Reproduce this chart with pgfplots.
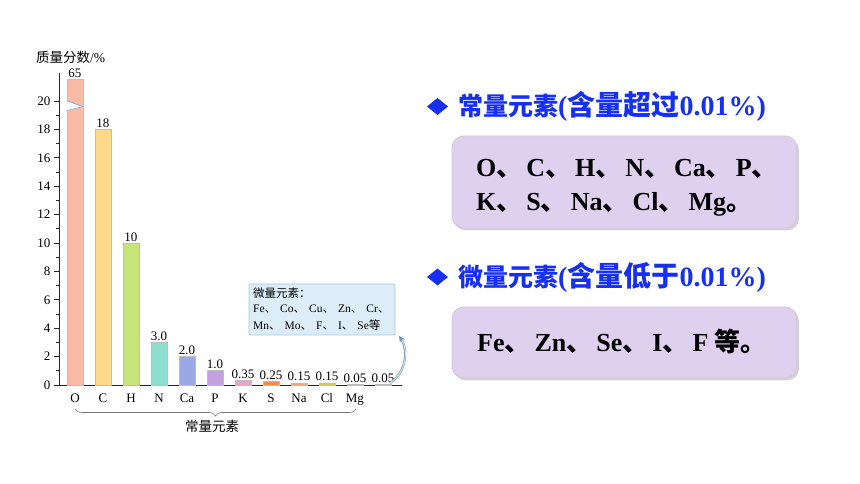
\documentclass[border=0pt]{standalone}
\usepackage{pgfplots}
\pgfplotsset{compat=1.18}
\usetikzlibrary{decorations.pathreplacing,arrows.meta,shadows}
\usepackage{fontspec}
\setmainfont{Liberation Serif}
\newfontfamily\cjk{Noto Sans CJK SC}
\newcommand\zh[1]{{\cjk #1}}
\newcommand\dun[1]{\makebox[#1][l]{\cjk 、}}
\definecolor{cO}{HTML}{F9BBA6}
\definecolor{cC}{HTML}{FDD98A}
\definecolor{cH}{HTML}{C5E47A}
\definecolor{cN}{HTML}{8EDFD0}
\definecolor{cCa}{HTML}{9AA9E6}
\definecolor{cP}{HTML}{C3A1E0}
\definecolor{cK}{HTML}{EFA0CD}
\definecolor{cS}{HTML}{EE8A4E}
\definecolor{cNa}{HTML}{F2A67A}
\definecolor{cCl}{HTML}{D2CC5E}
\definecolor{cMg}{HTML}{5C9BD0}
\definecolor{barline}{HTML}{BDBDBD}
\definecolor{annfill}{HTML}{DDEDF7}
\definecolor{annline}{HTML}{A8C8DE}
\definecolor{arrowc}{HTML}{8DBADA}
\definecolor{headblue}{HTML}{1530F0}
\definecolor{boxfill}{HTML}{DFD0EF}
\definecolor{boxline}{HTML}{CFC3DF}
\definecolor{breakc}{HTML}{8FA8C8}
\begin{document}
\begin{tikzpicture}[x=1pt,y=1pt]
\path[use as bounding box] (0,0) rectangle (860,484);
\begin{axis}[at={(59pt,99pt)}, anchor=south west, scale only axis,
  width=343pt, height=312.4pt,
  xmin=-0.571, xmax=11.68, ymin=0, ymax=22,
  axis x line*=bottom, axis y line*=left,
  axis line style={black!85, line width=0.9pt},
  ytick={0,2,...,20}, minor y tick num=1,
  xtick={0,...,10}, xticklabels={O,C,H,N,Ca,P,K,S,Na,Cl,Mg},
  x tick style={draw=none},
  y tick style={black!85, line width=0.8pt},
  tick align=outside, major tick length=5pt, minor tick length=3pt,
  ybar, bar width=16pt, bar shift=0pt,
  nodes near coords, point meta=explicit symbolic,
  every node near coord/.append style={font=\fontsize{13}{13}\selectfont, inner sep=1.5pt, black},
  tick label style={font=\fontsize{13}{13}\selectfont, black},
  /pgf/number format/assume math mode=true,
  clip=false,
  mybar/.style={fill=#1, draw=barline, line width=0.6pt, bar shift=0pt},
]
\addplot[mybar=cO] coordinates {(0,21.5) [65]};
\addplot[mybar=cC] coordinates {(1,18) [18]};
\addplot[mybar=cH] coordinates {(2,10) [10]};
\addplot[mybar=cN] coordinates {(3,3.0) [3.0]};
\addplot[mybar=cCa] coordinates {(4,2.0) [2.0]};
\addplot[mybar=cP] coordinates {(5,1.0) [1.0]};
\addplot[mybar=cK] coordinates {(6,0.35) [0.35]};
\addplot[mybar=cS] coordinates {(7,0.25) [0.25]};
\addplot[mybar=cNa] coordinates {(8,0.15) [0.15]};
\addplot[mybar=cCl] coordinates {(9,0.15) [0.15]};
\addplot[mybar=cMg] coordinates {(10,0.05) [0.05]};
\addplot[mybar=cMg] coordinates {(11,0.05) [0.05]};
\fill[white] (axis cs:-0.32,20.02) -- (axis cs:0.32,19.58) -- (axis cs:-0.32,19.33) -- cycle;
\draw[breakc, line width=0.7pt] (axis cs:-0.29,20.02) -- (axis cs:0.29,19.6);
\draw[breakc, line width=0.7pt] (axis cs:-0.29,19.33) -- (axis cs:0.29,19.6);
\end{axis}
% y label
\node[font=\fontsize{13.5}{14}\selectfont, anchor=west, inner sep=0] at (36,427) {\zh{质量分数}/\%};
% brace
\draw[decorate, decoration={brace, amplitude=7pt}, black!55, line width=0.6pt] (356,75) -- (75,75);
\node[font=\cjk\fontsize{13.5}{14}\selectfont, inner sep=0] at (212,58) {常量元素};
% annotation box
\draw[fill=annfill, draw=annline, line width=0.7pt, rounded corners=2pt] (249,149) rectangle (395,200);
\node[anchor=west, inner sep=0, font=\fontsize{11.5}{12}\selectfont] at (253,191) {\zh{微量元素：}};
\node[anchor=west, inner sep=0, font=\fontsize{11.5}{12}\selectfont] at (253,175) {Fe\dun{1.35em}Co\dun{1.35em}Cu\dun{1.35em}Zn\dun{1.35em}Cr\zh{、}};
\node[anchor=west, inner sep=0, font=\fontsize{11.5}{12}\selectfont] at (253,159) {Mn\dun{1.35em}Mo\dun{1.35em}F\dun{1.35em}I\dun{1.35em}Se\zh{等}};
% curved arrow
\draw[-{Stealth[length=6pt,width=6pt]}, arrowc!80!black, line width=2.2pt] (390,101) .. controls (407,112) and (408,135) .. (399,148);
\draw[arrowc!40!white, line width=1pt, shorten >=5pt] (390,101) .. controls (407,112) and (408,135) .. (399,148);
% right: header 1
\fill[headblue] (437.5,386) -- (448,377.5) -- (437.5,369) -- (427,377.5) -- cycle;
\node[anchor=base west, inner sep=0, text=headblue, font=\bfseries\fontsize{28}{30}\selectfont] at (458,368) {{\cjk\fontsize{25}{26}\selectfont 常量元素}(\zh{含量超过}0.01\%)};
\draw[fill=boxfill, draw=boxline, line width=0.8pt, rounded corners=12pt, drop shadow={shadow xshift=2pt, shadow yshift=-2.5pt, opacity=0.35}] (452,256) rectangle (797,348);
\node[anchor=base west, inner sep=0, font=\bfseries\fontsize{26}{28}\selectfont] at (476,307) {O\dun{30pt}C\dun{30pt}H\dun{30pt}N\dun{30pt}Ca\dun{30pt}P\zh{、}};
\node[anchor=base west, inner sep=0, font=\bfseries\fontsize{26}{28}\selectfont] at (476,273) {K\dun{30pt}S\dun{30pt}Na\dun{30pt}Cl\dun{30pt}Mg\zh{。}};
% right: header 2
\fill[headblue] (437.5,215.5) -- (448,207) -- (437.5,198.5) -- (427,207) -- cycle;
\node[anchor=base west, inner sep=0, text=headblue, font=\bfseries\fontsize{28}{30}\selectfont] at (458,197) {{\cjk\fontsize{25}{26}\selectfont 微量元素}(\zh{含量低于}0.01\%)};
\draw[fill=boxfill, draw=boxline, line width=0.8pt, rounded corners=12pt, drop shadow={shadow xshift=2pt, shadow yshift=-2.5pt, opacity=0.35}] (452,106) rectangle (797,177);
\node[anchor=base west, inner sep=0, font=\bfseries\fontsize{26}{28}\selectfont] at (477,132) {Fe\dun{30pt}Zn\dun{30pt}Se\dun{30pt}I\dun{30pt}F \zh{等。}};
\end{tikzpicture}
\end{document}
